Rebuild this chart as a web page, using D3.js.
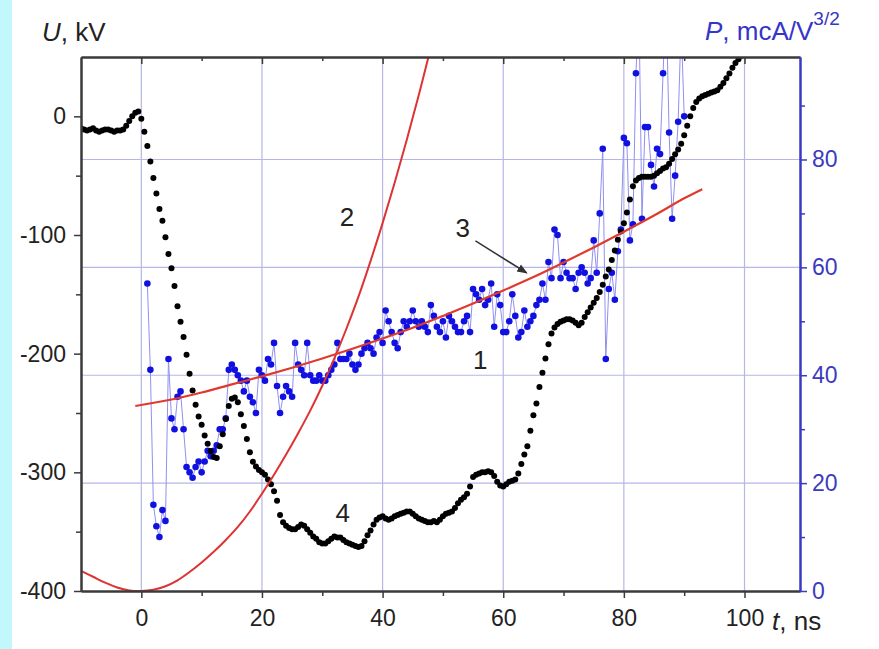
<!DOCTYPE html>
<html><head><meta charset="utf-8">
<script src="https://cdn.jsdelivr.net/npm/d3@7"></script>
<style>
body{margin:0;background:#fff;}
svg{display:block;font-family:"Liberation Sans",Arial,sans-serif;}
</style>
</head><body>
<svg id="chart" width="879" height="649"></svg>
<script>
// ---------- DATA ----------
// Curve 4: voltage U (kV) vs time t (ns), left axis
const curve4Time = [
-10,-9.5,-9,-8.5,-8,-7.5,-7,-6.5,-6,-5.5,-5,-4.5,-4,-3.5,-3,-2.5,-2,-1.5,-1,-0.5,
0,0.5,1,1.5,2,2.5,3,3.5,4,4.5,5,5.5,6,6.5,7,7.5,8,8.5,9,9.5,
10,10.5,11,11.5,12,12.5,13,13.5,14,14.5,15,15.5,16,16.5,17,17.5,18,18.5,19,19.5,
20,20.5,21,21.5,22,22.5,23,23.5,24,24.5,25,25.5,26,26.5,27,27.5,28,28.5,29,29.5,
30,30.5,31,31.5,32,32.5,33,33.5,34,34.5,35,35.5,36,36.5,37,37.5,38,38.5,39,39.5,
40,40.5,41,41.5,42,42.5,43,43.5,44,44.5,45,45.5,46,46.5,47,47.5,48,48.5,49,49.5,
50,50.5,51,51.5,52,52.5,53,53.5,54,54.5,55,55.5,56,56.5,57,57.5,58,58.5,59,59.5,
60,60.5,61,61.5,62,62.5,63,63.5,64,64.5,65,65.5,66,66.5,67,67.5,68,68.5,69,69.5,
70,70.5,71,71.5,72,72.5,73,73.5,74,74.5,75,75.5,76,76.5,77,77.5,78,78.5,79,79.5,
80,80.5,81,81.5,82,82.5,83,83.5,84,84.5,85,85.5,86,86.5,87,87.5,88,88.5,89,89.5,
90,90.5,91,91.5,92,92.5,93,93.5,94,94.5,95,95.5,96,96.5,97,97.5,98,98.5,99,99.5];
const curve4U = [
-10,-11,-12,-11,-10,-12,-13,-12,-11,-11,-12,-13,-12,-12,-11,-8,-4,0,3,4,
-2,-13,-25,-38,-52,-65,-78,-88,-102,-116,-128,-143,-160,-173,-186,-201,-217,-231,-243,-253,
-260,-269,-276,-282,-287,-288,-278,-268,-255,-244,-238,-237,-241,-251,-261,-272,-283,-291,-295,-298,
-300,-302,-306,-310,-316,-324,-336,-342,-345,-347,-348,-348,-346,-344,-345,-348,-351,-354,-356,-359,
-360,-360,-358,-356,-354,-355,-355,-357,-359,-360,-361,-362,-363,-362,-358,-353,-349,-344,-340,-338,
-337,-339,-340,-339,-337,-336,-335,-334,-333,-333,-335,-337,-339,-340,-341,-342,-342,-341,-342,-340,
-337,-335,-334,-333,-330,-326,-323,-321,-318,-312,-304,-302,-301,-300,-300,-299,-300,-303,-308,-311,
-312,-310,-308,-307,-306,-301,-293,-285,-278,-265,-252,-242,-228,-216,-204,-192,-183,-178,-175,-173,
-172,-171,-171,-172,-174,-176,-174,-169,-165,-161,-157,-153,-148,-142,-135,-129,-121,-113,-104,-97,
-90,-81,-70,-59,-54,-52,-51,-51,-51,-51,-50,-48,-46,-44,-43,-40,-36,-32,-28,-23,
-16,-8,0,7,12,15,17,18,19,20,21,22,25,28,32,36,41,45,48,51];

// Curve 1: perveance P (mcA/V^3/2) vs time t (ns), right axis
const curve1Time = [
1,1.5,2,2.5,3,3.5,4,4.5,5,5.5,6,6.5,7,7.5,8,8.5,9,9.5,10,10.5,
11,11.5,12,12.5,13,13.5,14,14.5,15,15.5,16,16.5,17,17.5,18,18.5,19,19.5,20,20.5,
21,21.5,22,22.5,23,23.5,24,24.5,25,25.5,26,26.5,27,27.5,28,28.5,29,29.5,30,30.5,
31,31.5,32,32.5,33,33.5,34,34.5,35,35.5,36,36.5,37,37.5,38,38.5,39,39.5,40,40.5,
41,41.5,42,42.5,43,43.5,44,44.5,45,45.5,46,46.5,47,47.5,48,48.5,49,49.5,50,50.5,
51,51.5,52,52.5,53,53.5,54,54.5,55,55.5,56,56.5,57,57.5,58,58.5,59,59.5,60,60.5,
61,61.5,62,62.5,63,63.5,64,64.5,65,65.5,66,66.5,67,67.5,68,68.5,69,69.5,70,70.5,
71,71.5,72,72.5,73,73.5,74,74.5,75,75.5,76,76.5,77,77.5,78,78.5,79,79.5,80,80.5,
81,81.5,82,82.5,83,83.5,84,84.5,85,85.5,86,86.5,87,87.5,88,88.5,89,89.5,90];
const curve1P = [
57,41,16,12,10,15,13,43,32,30,36,37,30,23,22,21,23,24,22,24,
26,25,26,27,30,30,32,41,42,41,40,39,37,39,36,35,33,41,40,39,
43,42,46,38,33,36,38,37,36,46,42,41,40,46,40,39,39,40,39,39,
40,41,42,46,43,43,43,44,42,41,42,44,45,46,45,44,47,48,46,52,
50,48,46,45,48,50,49,50,52,50,49,50,49,48,53,51,49,48,50,47,
51,50,49,48,48,50,51,48,56,55,54,56,53,54,57,49,55,53,48,48,
50,55,51,47,48,52,49,50,51,53,54,57,54,61,58,67,66,58,61,59,
58,58,56,59,60,59,57,58,65,59,70,82,43,56,59,54,63,67,84,83,
65,68,96,108,69,86,86,79,75,82,81,96,110,85,69,77,87,105,88];

// Curve 2: calculated U (kV), left axis
const curve2Time = [-10,-8,-6,-4,-2,0,2,4,6,8,10,12,14,16,18,20,22,24,26,28,30,32,34,36,38,40,42,44,46,48];
const curve2U = [-383,-388,-393,-397,-399.5,-400,-399,-396,-391,-384,-376,-367,-357,-346,-333,-318,-302,-285,-267,-248,-227,-204,-179,-152,-122,-90,-56,-20,18,58];

// Curve 3: fitted P, right axis
const curve3Time = [-1,5,10,15,20,25,30,35,40,45,50,55,60,65,70,75,80,85,90,93];
const curve3P = [34.3,35.5,36.8,38.3,39.8,41.4,43.1,44.9,46.8,48.8,51.0,53.3,55.7,58.2,60.9,63.7,66.6,69.6,72.8,74.5];

// Axis ticks
const tTicks = [0,20,40,60,80,100];
const tMinor = [10,30,50,70,90];
const uTicks = [0,-100,-200,-300,-400];
const uMinor = [-50,-150,-250,-350];
const pTicks = [0,20,40,60,80];
const pMinor = [10,30,50,70,90];

// Curve number labels: [text, t, value on left axis]
const curveLabels = [["1",56.2,-205],["2",34.1,-85],["3",53.3,-94],["4",33.4,-334]];

// ---------- LAYOUT ----------
const svg = d3.select("#chart");
const L = 81, R = 800, T = 57, B = 591;
const x = d3.scaleLinear().domain([-10, 109.2]).range([L, R]);
const yU = d3.scaleLinear().domain([-400, 50]).range([B, T]);
const yP = d3.scaleLinear().domain([0, 99]).range([B, T]);

const axisCol = "#3a3a3a", blueAxis = "#3b3bc0", gridCol = "#b6b6e8";

// left cyan strip
svg.append("rect").attr("x",0).attr("y",0).attr("width",12).attr("height",649).attr("fill","#c2f8fc");

svg.append("defs").append("clipPath").attr("id","plotclip")
  .append("rect").attr("x",L).attr("y",T).attr("width",R-L).attr("height",B-T);

// grid
const grid = svg.append("g");
grid.selectAll(".vg").data(tTicks).join("line")
  .attr("x1",d=>x(d)).attr("x2",d=>x(d)).attr("y1",T).attr("y2",B)
  .attr("stroke",gridCol).attr("stroke-width",1.2);
grid.selectAll(".hg").data(pTicks.filter(d=>d>0)).join("line")
  .attr("x1",L).attr("x2",R).attr("y1",d=>yP(d)).attr("y2",d=>yP(d))
  .attr("stroke",gridCol).attr("stroke-width",1.2);

const plot = svg.append("g").attr("clip-path","url(#plotclip)");

// curve 1 (blue) connecting lines
const c1 = curve1Time.map((t,i)=>({t, v:curve1P[i]}));
plot.append("path").datum(c1)
  .attr("d", d3.line().x(d=>x(d.t)).y(d=>yP(d.v)))
  .attr("fill","none").attr("stroke","#9090f0").attr("stroke-width",1);
plot.selectAll(".b").data(c1).join("circle")
  .attr("cx",d=>x(d.t)).attr("cy",d=>yP(d.v)).attr("r",3.3).attr("fill","#1010e0");

// curve 4 black dots
const c4 = curve4Time.map((t,i)=>({t, v:curve4U[i]}));
plot.selectAll(".k").data(c4).join("circle")
  .attr("cx",d=>x(d.t)).attr("cy",d=>yU(d.v)).attr("r",3.0).attr("fill","#000");

// red curves
const c2 = curve2Time.map((t,i)=>({t, v:curve2U[i]}));
plot.append("path").datum(c2)
  .attr("d", d3.line().curve(d3.curveCatmullRom).x(d=>x(d.t)).y(d=>yU(d.v)))
  .attr("fill","none").attr("stroke","#dd3333").attr("stroke-width",2);
const c3 = curve3Time.map((t,i)=>({t, v:curve3P[i]}));
plot.append("path").datum(c3)
  .attr("d", d3.line().curve(d3.curveCatmullRom).x(d=>x(d.t)).y(d=>yP(d.v)))
  .attr("fill","none").attr("stroke","#e03a2e").attr("stroke-width",2.2);

// axes
function styleAxis(g, col){
  g.select(".domain").attr("stroke",col).attr("stroke-width",2);
  g.selectAll(".tick line").attr("stroke",col).attr("stroke-width",1.5);
  g.selectAll(".tick text").attr("fill",col).style("font-size","23px").style("font-family","Liberation Sans, Arial, sans-serif");
}
const fmt = d=>String(d);
// bottom
let g = svg.append("g").attr("transform",`translate(0,${B})`)
  .call(d3.axisBottom(x).tickValues(tTicks).tickFormat(fmt).tickSize(7).tickPadding(12).tickSizeOuter(0));
styleAxis(g, axisCol); g.selectAll(".tick text").attr("fill","#222");
g = svg.append("g").attr("transform",`translate(0,${B})`)
  .call(d3.axisBottom(x).tickValues(tMinor).tickFormat("").tickSize(5).tickSizeOuter(0));
styleAxis(g, axisCol);
// top
g = svg.append("g").attr("transform",`translate(0,${T})`)
  .call(d3.axisBottom(x).tickValues(tTicks).tickFormat("").tickSize(7).tickSizeOuter(0));
styleAxis(g, axisCol);
g = svg.append("g").attr("transform",`translate(0,${T})`)
  .call(d3.axisBottom(x).tickValues(tMinor).tickFormat("").tickSize(4).tickSizeOuter(0));
styleAxis(g, axisCol);
// left
g = svg.append("g").attr("transform",`translate(${L},0)`)
  .call(d3.axisLeft(yU).tickValues(uTicks).tickFormat(fmt).tickSize(7).tickPadding(8).tickSizeOuter(0));
styleAxis(g, axisCol); g.selectAll(".tick text").attr("fill","#222");
g = svg.append("g").attr("transform",`translate(${L},0)`)
  .call(d3.axisLeft(yU).tickValues(uMinor).tickFormat("").tickSize(5).tickSizeOuter(0));
styleAxis(g, axisCol);
// right
g = svg.append("g").attr("transform",`translate(${R},0)`)
  .call(d3.axisRight(yP).tickValues(pTicks).tickFormat(fmt).tickSize(7).tickPadding(5).tickSizeOuter(0));
styleAxis(g, blueAxis);
g = svg.append("g").attr("transform",`translate(${R},0)`)
  .call(d3.axisRight(yP).tickValues(pMinor).tickFormat("").tickSize(5).tickSizeOuter(0));
styleAxis(g, blueAxis);

// axis titles
const tU = svg.append("text").attr("x",42).attr("y",41).attr("fill","#222").style("font-size","26px");
tU.append("tspan").style("font-style","italic").text("U");
tU.append("tspan").text(", kV");
const tP = svg.append("text").attr("x",705).attr("y",40).attr("fill","#3535c8").style("font-size","26px");
tP.append("tspan").style("font-style","italic").text("P");
tP.append("tspan").text(", mcA/V");
tP.append("tspan").attr("dy",-15).style("font-size","19px").text("3/2");
const tT = svg.append("text").attr("x",772).attr("y",630).attr("fill","#222").style("font-size","26px");
tT.append("tspan").style("font-style","italic").text("t");
tT.append("tspan").text(", ns");

// curve number labels
svg.selectAll(".cl").data(curveLabels).join("text")
  .attr("x",d=>x(d[1])).attr("y",d=>yU(d[2])+9).attr("text-anchor","middle")
  .attr("fill","#222").style("font-size","26px").text(d=>d[0]);

// arrow for label 3
const defs = svg.select("defs");
defs.append("marker").attr("id","arr").attr("viewBox","0 0 10 10").attr("refX",9).attr("refY",5)
  .attr("markerWidth",7).attr("markerHeight",7).attr("orient","auto")
  .append("path").attr("d","M0,1 L10,5 L0,9 Z").attr("fill","#333");
svg.append("line").attr("x1",x(55.4)).attr("y1",yU(-105)).attr("x2",x(63.9)).attr("y2",yU(-132))
  .attr("stroke","#333").attr("stroke-width",1.5).attr("marker-end","url(#arr)");
</script>
</body></html>
